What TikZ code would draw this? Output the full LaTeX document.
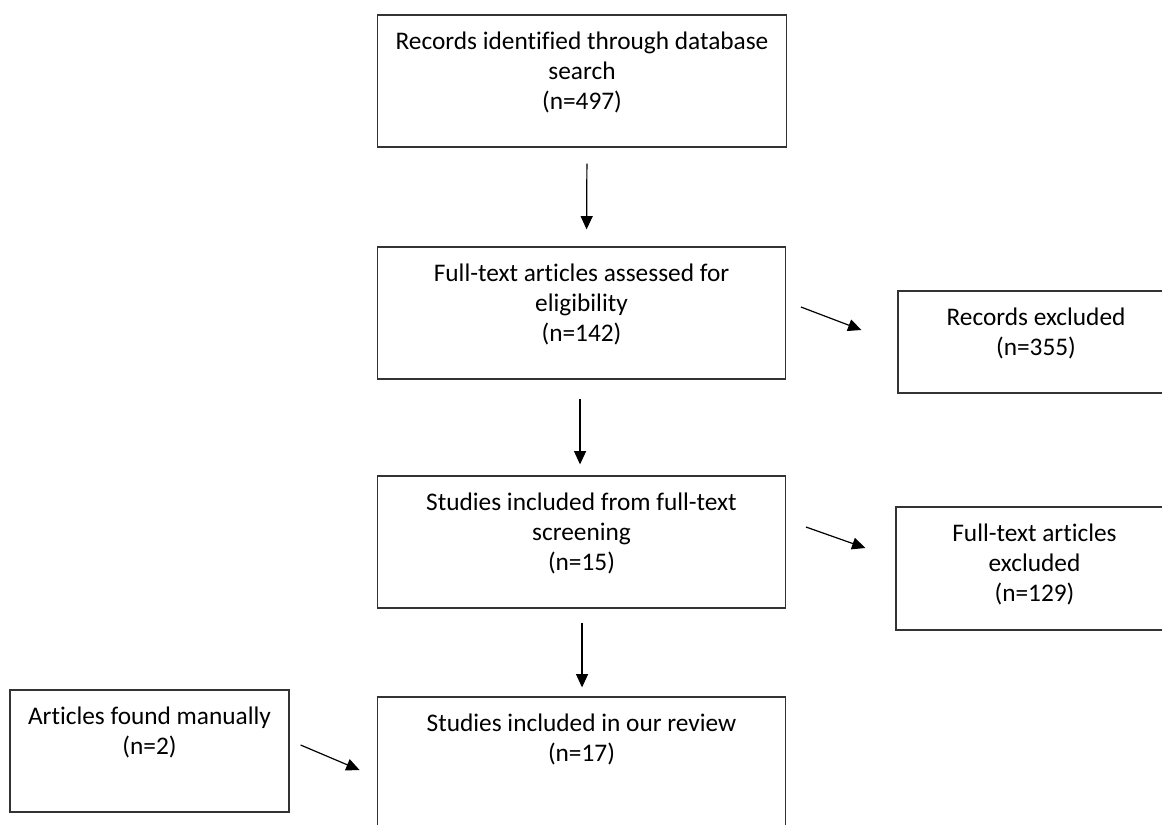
\documentclass[tikz,border=0pt]{standalone}
\usepackage{fontspec}
\setmainfont{Carlito}[Ligatures=NoCommon]
\usetikzlibrary{arrows.meta,positioning}

\begin{document}
\begin{tikzpicture}[
  x=0.75pt, y=-0.75pt,
  box/.style={draw=black!80, line width=0.9pt, minimum width=306.5pt, minimum height=99pt, inner sep=0pt},
  txt/.style={align=center, inner sep=0pt, font=\fontsize{19pt}{22.5pt}\selectfont},
  arr/.style={-{Triangle[length=10pt,width=9pt]}, line width=0.9pt},
]
\clip (0,0) rectangle (1162,824);
% boxes of the main column
\node[box] (rec) at (582,81) {};
\node[box] (elig) at (581.5,313) {};
\node[box] (incl) at (581.5,542) {};
\node[box] (review) at (581.5,763) {};
% side boxes
\node[box, minimum width=207pt, minimum height=76.5pt] (excl1) at (1036,342) {};
\node[box, minimum width=207.75pt, minimum height=92.25pt] (excl2) at (1034.5,568.5) {};
\node[box, minimum width=209.25pt, minimum height=91.5pt] (manual) at (149.5,751) {};
% texts
\node[txt, below=13pt of rec.north] (rec-t) {Records identified through database\\search\\(n=497)};
\node[txt, below=13pt of elig.north] (elig-t) {Full-text articles assessed for\\eligibility\\(n=142)};
\node[txt, below=13pt of incl.north] (incl-t) {Studies included from full-text\\screening\\(n=15)};
\node[txt, below=13pt of review.north] (review-t) {Studies included in our review\\(n=17)};
\node[txt, below=13pt of excl1.north] (excl1-t) {Records excluded\\(n=355)};
\node[txt, below=13pt of excl2.north] (excl2-t) {Full-text articles\\excluded\\(n=129)};
\node[txt, below=13pt of manual.north] (manual-t) {Articles found manually\\(n=2)};
% arrows
\draw[arr, shorten <=12pt, shorten >=12.75pt] ([xshift=3.75pt]rec.south) -- ([xshift=3.75pt]elig.north);
\draw[arr, shorten <=14.25pt, shorten >=8.25pt] ([xshift=-1.1pt]elig.south) -- ([xshift=-1.1pt]incl.north);
\draw[arr, shorten <=10.5pt, shorten >=6.75pt] ([xshift=0.4pt]incl.south) -- ([xshift=0.4pt]review.north);
\draw[arr] ([shift={(14.5,-6)}]elig.east) -- ([shift={(-36,-12)}]excl1.west);
\draw[arr] ([shift={(19.5,-15)}]incl.east) -- ([shift={(-30,-20.5)}]excl2.west);
\draw[arr] ([shift={(11,-6)}]manual.east) -- ([shift={(-17,7)}]review.west);
\end{tikzpicture}
\end{document}
